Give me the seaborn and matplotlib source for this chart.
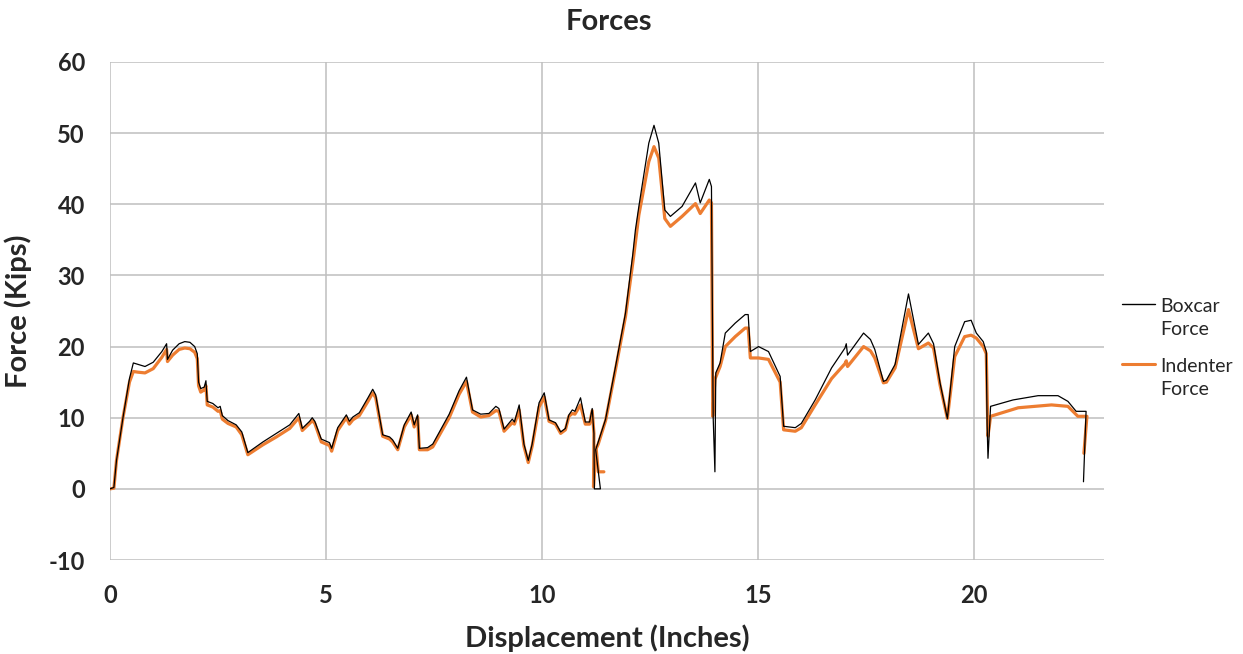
import numpy as np
import pandas as pd
import matplotlib
matplotlib.use("Agg")
import matplotlib.pyplot as plt
from matplotlib.lines import Line2D
import seaborn as sns

sns.set_style("white")
plt.rcParams["font.family"] = ["Lato", "DejaVu Sans"]
plt.rcParams["axes.unicode_minus"] = False

# ---------- data ----------
boxcar_x = [0.0, 0.09, 0.15, 0.3, 0.45, 0.54, 0.65, 0.81, 1.0, 1.2, 1.31, 1.33, 1.45, 1.6, 1.73,
            1.85, 1.96, 2.02, 2.05, 2.1, 2.18, 2.22, 2.25, 2.38, 2.5, 2.55, 2.6, 2.73, 2.92, 3.05,
            3.19, 3.54, 3.85, 4.16, 4.37, 4.45, 4.62, 4.68, 4.74, 4.89, 5.08, 5.13, 5.27, 5.47,
            5.54, 5.62, 5.77, 5.97, 6.08, 6.15, 6.31, 6.47, 6.54, 6.66, 6.81, 6.97, 7.04, 7.12,
            7.16, 7.35, 7.47, 7.85, 8.08, 8.25, 8.39, 8.58, 8.77, 8.93, 9.0, 9.12, 9.31, 9.36,
            9.47, 9.58, 9.68, 9.77, 9.93, 10.05, 10.16, 10.31, 10.43, 10.54, 10.62, 10.7, 10.76,
            10.89, 11.0, 11.1, 11.16, 11.2, 11.21, 11.35, 11.24, 11.3, 11.47, 11.7, 11.93, 12.1,
            12.16, 12.24, 12.47, 12.59, 12.7, 12.84, 12.97, 13.24, 13.55, 13.66, 13.87, 13.92,
            13.96, 14.0, 14.02, 14.12, 14.24, 14.47, 14.7, 14.77, 14.82, 15.01, 15.24, 15.51,
            15.59, 15.86, 16.0, 16.32, 16.7, 17.01, 17.04, 17.07, 17.44, 17.6, 17.7, 17.9, 17.97,
            18.17, 18.48, 18.71, 18.94, 19.06, 19.21, 19.38, 19.55, 19.78, 19.93, 20.05, 20.21,
            20.28, 20.3, 20.32, 20.38, 20.9, 21.48, 21.94, 22.17, 22.36, 22.59, 22.53]
boxcar_y = [0.0, 0.2, 4.0, 10.0, 15.5, 17.7, 17.5, 17.2, 17.8, 19.3, 20.4, 18.2, 19.5, 20.4, 20.7,
            20.6, 20.0, 19.0, 15.0, 14.1, 14.3, 15.2, 12.3, 12.0, 11.4, 11.6, 10.3, 9.6, 9.0, 8.0,
            5.1, 6.6, 7.8, 9.0, 10.6, 8.5, 9.5, 10.0, 9.5, 7.0, 6.5, 5.7, 8.6, 10.4,
            9.5, 10.1, 10.7, 12.8, 14.0, 13.2, 7.6, 7.3, 6.9, 5.7, 9.0, 10.8, 9.0, 10.4,
            5.7, 5.8, 6.3, 10.5, 13.8, 15.7, 11.1, 10.5, 10.6, 11.6, 11.3, 8.4, 9.8, 9.4,
            11.8, 6.3, 4.0, 6.3, 12.1, 13.5, 9.7, 9.3, 8.0, 8.5, 10.4, 11.1, 10.9,
            12.8, 9.4, 9.4, 11.3, 7.8, 0.0, 0.0, 5.5, 6.6, 9.8, 17.2, 24.7, 33.0,
            36.4, 39.7, 48.6, 51.1, 48.6, 39.2, 38.3, 39.7, 43.0, 40.2, 43.5, 42.5,
            10.0, 2.4, 16.3, 17.7, 21.9, 23.3, 24.5, 24.5, 19.3, 20.0, 19.3, 15.8,
            8.8, 8.6, 9.2, 12.5, 17.0, 19.8, 20.4, 18.8, 21.9, 21.0, 19.6, 15.1, 15.3,
            17.5, 27.4, 20.3, 21.9, 20.4, 14.9, 9.9, 20.0, 23.5, 23.7, 21.9, 20.7,
            19.3, 9.0, 4.3, 11.6, 12.5, 13.1, 13.1, 12.3, 10.9, 10.9, 1.0]

indenter_x = [0.0, 0.09, 0.15, 0.3, 0.45, 0.54, 0.65, 0.81, 1.0, 1.2, 1.31, 1.33, 1.45, 1.6, 1.73,
              1.85, 1.96, 2.02, 2.05, 2.1, 2.18, 2.22, 2.25, 2.38, 2.5, 2.55, 2.6, 2.73, 2.92, 3.05,
              3.19, 3.54, 3.85, 4.16, 4.37, 4.45, 4.62, 4.68, 4.74, 4.89, 5.08, 5.13, 5.27, 5.47,
              5.54, 5.62, 5.77, 5.97, 6.08, 6.15, 6.31, 6.47, 6.54, 6.66, 6.81, 6.97, 7.04, 7.12,
              7.16, 7.35, 7.47, 7.85, 8.08, 8.25, 8.39, 8.58, 8.77, 8.93, 9.0, 9.12, 9.31, 9.36,
              9.47, 9.58, 9.68, 9.77, 9.93, 10.05, 10.16, 10.31, 10.43, 10.54, 10.62, 10.7, 10.76,
              10.89, 11.0, 11.1, 11.16, 11.2, 11.19, 11.24, 11.3, 11.47, 11.7, 11.93, 12.12,
              12.24, 12.47, 12.59, 12.7, 12.84, 12.97, 13.24, 13.55, 13.66, 13.87, 13.92,
              13.95, 14.0, 14.12, 14.24, 14.47, 14.7, 14.77, 14.82, 15.01, 15.24, 15.51,
              15.59, 15.86, 16.0, 16.32, 16.7, 17.01, 17.04, 17.07, 17.44, 17.6, 17.7, 17.9, 17.97,
              18.17, 18.48, 18.71, 18.94, 19.06, 19.21, 19.38, 19.55, 19.78, 19.93, 20.05, 20.21,
              20.28, 20.32, 20.38, 21.02, 21.79, 22.17, 22.4, 22.61, 22.54]
indenter_y = [0.0, 0.1, 4.0, 10.0, 15.0, 16.5, 16.4, 16.3, 16.9, 18.5, 19.6, 17.9, 18.8, 19.6, 19.8,
              19.7, 19.2, 18.3, 14.5, 13.6, 13.9, 14.5, 11.8, 11.5, 10.9, 11.0, 9.8, 9.2, 8.7, 7.6,
              4.8, 6.2, 7.3, 8.5, 10.0, 8.2, 9.2, 9.6, 9.2, 6.6, 6.1, 5.3, 8.2, 10.0,
              9.1, 9.7, 10.3, 12.3, 13.5, 12.8, 7.4, 7.0, 6.6, 5.5, 8.7, 10.4, 8.7, 10.1,
              5.5, 5.5, 5.9, 10.0, 13.3, 15.1, 10.8, 10.1, 10.3, 11.0, 10.9, 8.1, 9.3, 9.1,
              11.1, 6.0, 3.7, 6.0, 11.5, 12.9, 9.5, 9.1, 7.8, 8.3, 10.2, 10.6, 10.5,
              11.8, 9.1, 9.1, 11.0, 7.8, 0.3, 5.5, 6.3, 9.6, 16.8, 24.2, 32.7,
              38.5, 46.0, 48.1, 46.5, 38.0, 36.9, 38.3, 40.1, 38.7, 40.6, 40.2,
              10.2, 15.4, 17.2, 20.0, 21.4, 22.6, 22.6, 18.4, 18.4, 18.2, 15.0,
              8.3, 8.1, 8.6, 11.8, 15.5, 17.6, 18.0, 17.2, 20.0, 19.4, 18.4, 14.9, 15.0,
              17.0, 25.2, 19.7, 20.5, 19.8, 14.6, 9.9, 18.6, 21.4, 21.6, 21.2, 20.0,
              19.0, 7.4, 10.2, 11.4, 11.8, 11.6, 10.2, 10.2, 5.0]

# short detached piece of the indenter trace near 11.3 in
indenter_gap_x = [11.25, 11.3, 11.43]
indenter_gap_y = [5.8, 2.4, 2.4]

series_labels = ["Boxcar\nForce", "Indenter\nForce"]
x_ticks = [0, 5, 10, 15, 20]
y_ticks = [-10, 0, 10, 20, 30, 40, 50, 60]

BLACK = "#000000"
ORANGE = "#ED7D31"
GRID = "#BFBFBF"
colors = [BLACK, ORANGE]

fig = plt.figure(figsize=(12.43, 6.54), dpi=100)
ax = fig.add_axes([0.0885, 0.1437, 0.7995, 0.7615])

sns.lineplot(x=boxcar_x, y=boxcar_y, sort=False, estimator=None, color=BLACK,
             linewidth=0.9, legend=False, ax=ax, zorder=3)
sns.lineplot(x=indenter_x, y=indenter_y, sort=False, estimator=None, color=ORANGE,
             linewidth=2.3, legend=False, ax=ax, zorder=2)
sns.lineplot(x=indenter_gap_x, y=indenter_gap_y, sort=False, estimator=None, color=ORANGE,
             linewidth=2.3, legend=False, ax=ax, zorder=2)

ax.set_xlim(0, 23)
ax.set_ylim(-10, 60)
ax.set_xticks(x_ticks)
ax.set_yticks(y_ticks)
ax.grid(True, color=GRID, linewidth=1.1)
ax.set_axisbelow(True)
for s in ax.spines.values():
    s.set_visible(False)
ax.tick_params(axis="both", length=7, width=1.1, color=GRID, labelsize=17)
ax.tick_params(axis="x", pad=10)
ax.tick_params(axis="y", pad=11)
for lab in ax.get_xticklabels() + ax.get_yticklabels():
    lab.set_fontweight("bold")

fig.text(0.4895, 1 - 22 / 654, "Forces", fontsize=21, fontweight="bold",
         ha="center", va="center")
ax.set_xlabel("Displacement (Inches)", fontsize=21, fontweight="bold", labelpad=13)
ax.set_ylabel("Force (Kips)", fontsize=21, fontweight="bold", labelpad=12)

# legend drawn to the right of the plot, handle level with the first text line
W, H = 1243, 654
for i, (lab, col) in enumerate(zip(series_labels, colors)):
    y0 = 304 + i * 60
    fig.add_artist(Line2D([1122 / W, 1155 / W], [1 - y0 / H, 1 - y0 / H], color=col,
                          linewidth=1.0 if i == 0 else 2.2))
    fig.text(1160 / W, 1 - (y0 - 6) / H, lab, fontsize=14, ha="left", va="top",
             linespacing=1.45, color="#262626")

fig.savefig("out.png", dpi=100)
